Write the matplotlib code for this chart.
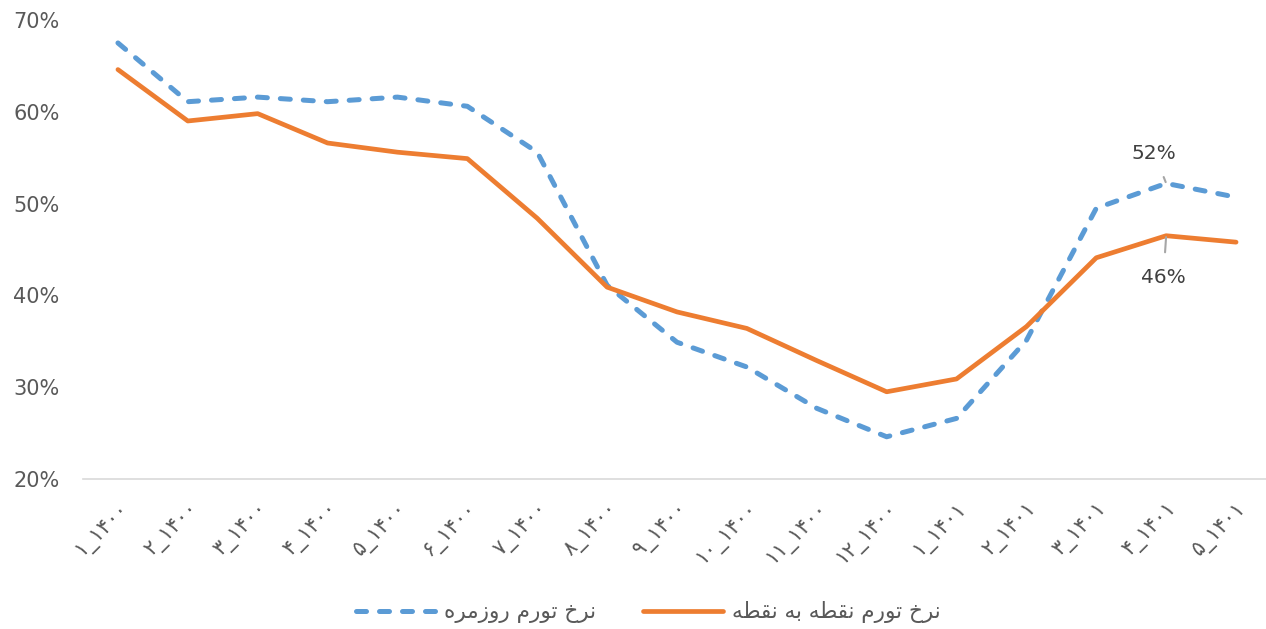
import matplotlib
matplotlib.use('Agg')
import matplotlib.pyplot as plt
import numpy as np

months = ['۱', '۲', '۳', '۴', '۵', '۶', '۷', '۸', '۹', '۱۰', '۱۱', '۱۲',
          '۱', '۲', '۳', '۴', '۵']
years = ['۱۴۰۰'] * 12 + ['۱۴۰۱'] * 5
tick_labels = [m + '_' + y for m, y in zip(months, years)]

daily_rate = [67.5, 61.1, 61.6, 61.1, 61.6, 60.6, 55.6, 41.1, 34.9, 32.2,
              27.7, 24.6, 26.6, 35.1, 49.5, 52.2, 50.7]
p2p_rate = [64.6, 59.0, 59.8, 56.6, 55.6, 54.9, 48.4, 40.9, 38.2, 36.4,
            32.9, 29.5, 30.9, 36.6, 44.1, 46.5, 45.8]

daily_name = 'نرخ تورم روزمره'
p2p_name = 'نرخ تورم نقطه به نقطه'

# presentation forms: isolated, final, initial, medial
FORMS = {
    'ب': ('\uFE8F', '\uFE90', '\uFE91', '\uFE92'),
    'ت': ('\uFE95', '\uFE96', '\uFE97', '\uFE98'),
    'خ': ('\uFEA5', '\uFEA6', '\uFEA7', '\uFEA8'),
    'ر': ('\uFEAD', '\uFEAE', None, None),
    'ز': ('\uFEAF', '\uFEB0', None, None),
    'ط': ('\uFEC1', '\uFEC2', '\uFEC3', '\uFEC4'),
    'ق': ('\uFED5', '\uFED6', '\uFED7', '\uFED8'),
    'م': ('\uFEE1', '\uFEE2', '\uFEE3', '\uFEE4'),
    'ن': ('\uFEE5', '\uFEE6', '\uFEE7', '\uFEE8'),
    'ه': ('\uFEE9', '\uFEEA', '\uFEEB', '\uFEEC'),
    'و': ('\uFEED', '\uFEEE', None, None),
}


def shape(text):
    # join arabic letters by hand and flip to visual order
    out = []
    for i, ch in enumerate(text):
        if ch not in FORMS:
            out.append(ch)
            continue
        prev = text[i - 1] if i > 0 else ' '
        nxt = text[i + 1] if i + 1 < len(text) else ' '
        join_prev = prev in FORMS and FORMS[prev][2] is not None
        join_next = nxt in FORMS and FORMS[ch][2] is not None
        f = FORMS[ch]
        if join_prev and join_next:
            out.append(f[3])
        elif join_prev:
            out.append(f[1])
        elif join_next:
            out.append(f[2])
        else:
            out.append(f[0])
    return ''.join(out)[::-1]


plt.rcParams['font.family'] = ['DejaVu Sans']

fig = plt.figure(figsize=(12.66, 6.29), dpi=100)
ax = fig.add_axes([83 / 1266, 150 / 629, 1188 / 1266, 459 / 629])

x = np.arange(len(tick_labels))
ax.plot(x, daily_rate, color='#5B9BD5', lw=3.6, linestyle=(0, (2.0, 2.6)),
        dash_capstyle='round', solid_joinstyle='round', label=shape(daily_name))
ax.plot(x, p2p_rate, color='#ED7D31', lw=3.4, solid_capstyle='round',
        solid_joinstyle='round', label=shape(p2p_name))

ax.set_xlim(-0.5, len(x) - 0.5)
ax.set_ylim(20, 70)
ax.set_yticks(np.arange(20, 71, 10))
ax.set_yticklabels([f'{v}%' for v in range(20, 71, 10)])
ax.set_xticks(x)
ax.set_xticklabels(tick_labels, rotation=45, ha='right', rotation_mode='anchor')

for s in ['top', 'right', 'left']:
    ax.spines[s].set_visible(False)
ax.spines['bottom'].set_color('#D9D9D9')
ax.spines['bottom'].set_linewidth(1.2)
ax.tick_params(axis='both', length=0, colors='#595959')
ax.tick_params(axis='y', labelsize=15, pad=17)
ax.tick_params(axis='x', labelsize=15, pad=14)

ax.annotate('52%', xy=(15, daily_rate[15]), xytext=(14.83, 55.5),
            ha='center', va='center', fontsize=14.5, color='#404040',
            arrowprops=dict(arrowstyle='-', color='#A6A6A6', lw=1.5,
                            shrinkA=9, shrinkB=1))
ax.annotate('46%', xy=(15, p2p_rate[15]), xytext=(14.96, 42.0),
            ha='center', va='center', fontsize=14.5, color='#404040',
            arrowprops=dict(arrowstyle='-', color='#A6A6A6', lw=1.5,
                            shrinkA=9, shrinkB=1))

ax.legend(loc='center', bbox_to_anchor=(0.4756, -0.29), ncol=2, frameon=False,
          fontsize=15.5, labelcolor='#595959', handlelength=3.7,
          handletextpad=0.4, columnspacing=2.2)

fig.savefig('out.png', dpi=100)
